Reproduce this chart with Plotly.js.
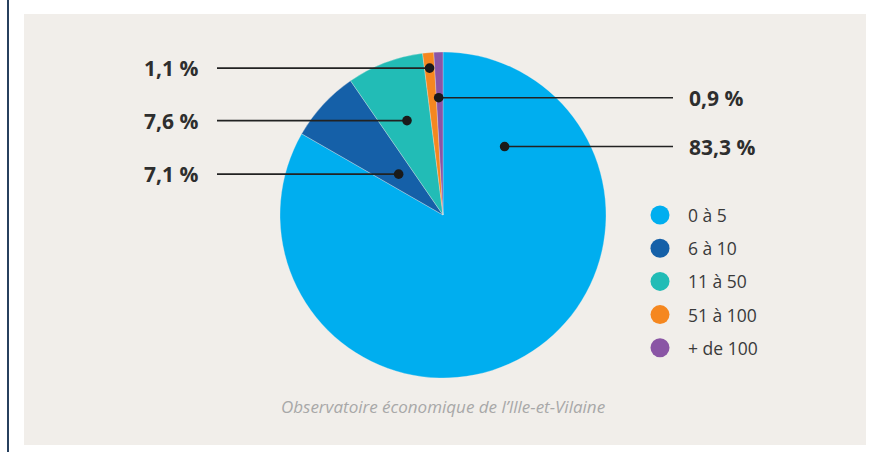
<!DOCTYPE html>
<html><head><meta charset="utf-8">
<script src="https://cdn.plot.ly/plotly-3.0.1.min.js"></script>
<style>html,body{margin:0;padding:0;background:#fff}#c{width:879px;height:452px}</style>
</head><body><div id="c"></div>
<script>
// ---- data ----
const categories = ["0 à 5", "6 à 10", "11 à 50", "51 à 100", "+ de 100"];
const shares = [83.3, 7.1, 7.6, 1.1, 0.9];
const colors = ["#00aeef", "#1560a8", "#22bcb6", "#f5871f", "#8a55a5"];
const source = "Observatoire économique de l’Ille-et-Vilaine";

// ---- layout constants (pixels) ----
const W = 879, H = 452;
const CX = 443, CY = 215, R = 163;
// dot placement per slice: fraction of slice angle, fraction of radius, label side
const dotAngleFrac = [0.14, 0.5, 0.5, 0.5, 0.35];
const dotRadiusFrac = [0.565, 0.37, 0.62, 0.905, 0.72];
const labelSide = ["right", "left", "left", "left", "right"];
const LEFT_LINE_END = 217, LEFT_TEXT_X = 200, RIGHT_LINE_END = 673, RIGHT_TEXT_X = 687;
const DOT_R = 4.8;

const total = shares.reduce((a, b) => a + b, 0);
let cum = 0;
const dotX = [], dotY = [];
shares.forEach((v, i) => {
  const a = (cum + dotAngleFrac[i] * v) / total * 2 * Math.PI;
  const r = dotRadiusFrac[i] * R;
  dotX.push(CX + r * Math.sin(a));
  dotY.push(CY - r * Math.cos(a));
  cum += v;
});

const fmt = v => v.toFixed(1).replace(".", ",") + " %";

const traces = [{
  type: "pie",
  values: shares,
  labels: categories,
  sort: false,
  direction: "clockwise",
  rotation: 0,
  marker: {colors: colors, line: {color: "rgba(240,237,234,0.6)", width: 0.5}},
  textinfo: "none",
  hoverinfo: "label+percent",
  showlegend: false,
  domain: {x: [(CX - R) / W, (CX + R) / W], y: [1 - (CY + R) / H, 1 - (CY - R) / H]}
}];

// legend markers (drawn manually with circles)
const LEG_X = 660, LEG_Y0 = 215, LEG_DY = 33.2, LEG_TEXT_X = 686;
traces.push({
  type: "scatter", mode: "markers",
  x: categories.map(() => LEG_X),
  y: categories.map((c, i) => LEG_Y0 + i * LEG_DY),
  marker: {color: colors, size: 19},
  showlegend: false, hoverinfo: "skip", cliponaxis: false
});

const shapes = [
  {type: "rect", xref: "x", yref: "y", x0: 24, x1: 866, y0: 14, y1: 445,
   fillcolor: "#f1eeea", line: {width: 0}, layer: "below"},
  {type: "line", xref: "x", yref: "y", x0: 8, x1: 8, y0: 0, y1: H,
   line: {color: "#27405e", width: 2}, layer: "below"}
];
// leader lines + dots (above the pie)
shares.forEach((v, i) => {
  const endX = labelSide[i] === "left" ? LEFT_LINE_END : RIGHT_LINE_END;
  shapes.push({type: "line", xref: "x", yref: "y", x0: dotX[i], x1: endX, y0: dotY[i], y1: dotY[i],
    line: {color: "#222", width: 1.6}, layer: "above"});
  shapes.push({type: "circle", xref: "x", yref: "y",
    x0: dotX[i] - DOT_R, x1: dotX[i] + DOT_R, y0: dotY[i] - DOT_R, y1: dotY[i] + DOT_R,
    fillcolor: "#1a1a1a", line: {width: 0}, layer: "above"});
});

const annotations = shares.map((v, i) => ({
  xref: "x", yref: "y",
  x: labelSide[i] === "left" ? LEFT_TEXT_X : RIGHT_TEXT_X,
  y: dotY[i],
  xanchor: labelSide[i] === "left" ? "right" : "left",
  yanchor: "middle",
  text: "<b>" + fmt(v) + "</b>", showarrow: false,
  font: {family: "Open Sans, sans-serif", size: 21, color: "#2e2e2e"}
}));
categories.forEach((c, i) => annotations.push({
  xref: "x", yref: "y", x: LEG_TEXT_X, y: LEG_Y0 + i * LEG_DY,
  xanchor: "left", yanchor: "middle", text: c, showarrow: false,
  font: {family: "Open Sans, sans-serif", size: 17.5, color: "#3a3a3a"}
}));
annotations.push({
  xref: "x", yref: "y", x: CX, y: 406, xanchor: "center", yanchor: "middle",
  text: "<i>" + source + "</i>", showarrow: false,
  font: {family: "Open Sans, sans-serif", size: 17, color: "#a8a8a8"}
});

const layout = {
  width: W, height: H,
  margin: {l: 0, r: 0, t: 0, b: 0},
  paper_bgcolor: "#ffffff", plot_bgcolor: "rgba(0,0,0,0)",
  xaxis: {range: [0, W], visible: false, fixedrange: true},
  yaxis: {range: [H, 0], visible: false, fixedrange: true},
  showlegend: false,
  annotations: annotations,
  shapes: shapes
};

Plotly.newPlot("c", traces, layout, {displayModeBar: false, staticPlot: true});
</script></body></html>
